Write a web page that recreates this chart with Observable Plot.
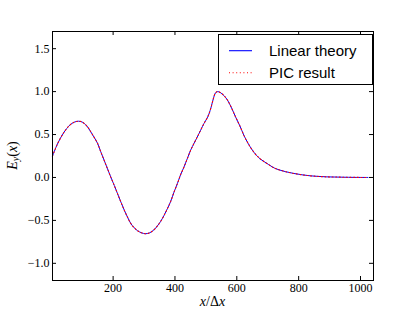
<!DOCTYPE html>
<html>
<head>
<meta charset="utf-8">
<script src="https://cdn.jsdelivr.net/npm/d3@7"></script>
<script src="https://cdn.jsdelivr.net/npm/@observablehq/plot@0.6"></script>
<style>
  html, body { margin: 0; padding: 0; background: #fff; }
  #chart svg { display: block; }
</style>
</head>
<body>
<div id="chart"></div>
<script>
// x positions (grid units x/Δx)
const xs = [4,20,40,60,75,88,100,115,128,140,150,160,171,182,193,204,214,225,236,247,
  257,268,279,292,305,318,332,343,354,365,376,386,397,408,418,429,440,451,462,472,
  483,494,503,510,517,524,531,538,546,558,570,583,596,610,623,636,650,663,676,690,
  703,716,730,757,784,811,838,865,891,918,945,980,1024];
// Linear theory E_y(x)
const theoryY = [0.25,0.39,0.52,0.61,0.645,0.655,0.645,0.60,0.53,0.46,0.395,0.30,0.20,0.10,0.0,-0.095,-0.186,-0.285,-0.38,-0.465,
  -0.535,-0.585,-0.62,-0.645,-0.655,-0.645,-0.61,-0.565,-0.51,-0.44,-0.36,-0.28,-0.17,-0.07,0.03,0.12,0.22,0.32,0.40,0.47,
  0.55,0.63,0.685,0.74,0.82,0.915,0.985,1.0,0.99,0.955,0.90,0.81,0.705,0.60,0.49,0.40,0.32,0.26,0.215,0.18,
  0.15,0.12,0.097,0.068,0.047,0.031,0.019,0.012,0.007,0.005,0.003,0.001,0.0];
// PIC result E_y(x)
const picY = [0.25,0.39,0.52,0.61,0.645,0.655,0.645,0.60,0.53,0.46,0.395,0.30,0.20,0.10,0.0,-0.095,-0.186,-0.285,-0.38,-0.465,
  -0.535,-0.585,-0.62,-0.645,-0.655,-0.645,-0.61,-0.565,-0.51,-0.44,-0.36,-0.28,-0.17,-0.07,0.03,0.12,0.22,0.32,0.40,0.47,
  0.55,0.63,0.685,0.74,0.82,0.915,0.985,1.0,0.99,0.955,0.90,0.81,0.705,0.60,0.49,0.40,0.32,0.26,0.215,0.18,
  0.15,0.12,0.097,0.068,0.047,0.031,0.019,0.012,0.007,0.005,0.003,0.001,0.0];

const xTicks = [200, 400, 600, 800, 1000];
const yTicks = [-1.0, -0.5, 0.0, 0.5, 1.0, 1.5];
const seriesNames = ["Linear theory", "PIC result"];

const theory = xs.map((x, i) => ({x, y: theoryY[i]}));
const pic = xs.map((x, i) => ({x, y: picY[i]}));

const W = 415, H = 312;
const mL = 52, mR = 42, mT = 31, mB = 32;
const innerW = W - mL - mR, innerH = H - mT - mB;
const tickLen = 4;
const fmt = d => (d < 0 ? "\u2212" : "") + Math.abs(d).toFixed(1);

const chart = Plot.plot({
  width: W, height: H,
  marginLeft: mL, marginRight: mR, marginTop: mT, marginBottom: mB,
  style: {background: "#fff", fontFamily: "'Liberation Serif', serif", fontSize: "12px", color: "#000"},
  x: {domain: [4, 1042]},
  y: {domain: [-1.2, 1.7]},
  marks: [
    Plot.line(theory, {x: "x", y: "y", stroke: "#0000ff", strokeWidth: 1, curve: "catmull-rom"}),
    Plot.line(pic, {x: "x", y: "y", stroke: "#ff0000", strokeWidth: 1.1, strokeDasharray: "1,2.6", curve: "catmull-rom"}),
    // inward ticks on all four sides
    Plot.tickX(xTicks, {x: d => d, insetTop: innerH - tickLen, stroke: "#000"}),
    Plot.tickX(xTicks, {x: d => d, insetBottom: innerH - tickLen, stroke: "#000"}),
    Plot.tickY(yTicks, {y: d => d, insetRight: innerW - tickLen, stroke: "#000"}),
    Plot.tickY(yTicks, {y: d => d, insetLeft: innerW - tickLen, stroke: "#000"}),
    Plot.axisX({ticks: xTicks, tickSize: 0, tickPadding: 3, tickFormat: d => String(d), label: null, fontSize: 12}),
    Plot.axisY({ticks: yTicks, tickSize: 0, tickPadding: 3, tickFormat: fmt, label: null, fontSize: 12}),
    Plot.frame({stroke: "#000", strokeWidth: 1})
  ]
});
document.getElementById("chart").appendChild(chart);

const svg = d3.select(chart);
// y axis label E_y(x)
const yl = svg.append("text")
  .attr("transform", `translate(14,${mT + innerH / 2}) rotate(-90)`)
  .attr("text-anchor", "middle")
  .attr("dominant-baseline", "middle")
  .style("font-family", "'Liberation Serif', serif")
  .style("font-size", "14px")
  .attr("fill", "#000");
yl.append("tspan").attr("font-style", "italic").text("E");
yl.append("tspan").attr("font-style", "italic").attr("font-size", "10px").attr("dy", "3").text("y");
yl.append("tspan").attr("dy", "-3").text("(");
yl.append("tspan").attr("font-style", "italic").text("x");
yl.append("tspan").text(")");

// x axis label x/Δx
const xl = svg.append("text")
  .attr("x", mL + innerW / 2)
  .attr("y", 306)
  .attr("text-anchor", "middle")
  .style("font-family", "'Liberation Serif', serif")
  .style("font-size", "14px")
  .attr("fill", "#000");
xl.append("tspan").attr("font-style", "italic").text("x");
xl.append("tspan").text("/\u0394");
xl.append("tspan").attr("font-style", "italic").text("x");

// legend
const lg = svg.append("g").attr("text-anchor", "start");
lg.append("rect").attr("x", 218.5).attr("y", 34.5).attr("width", 154).attr("height", 50)
  .attr("fill", "#fff").attr("stroke", "#000").attr("stroke-width", 1);
const entries = [
  {name: seriesNames[0], color: "#0000ff", dash: null, y: 50.7},
  {name: seriesNames[1], color: "#ff0000", dash: "1,2.6", y: 72.7}
];
entries.forEach(e => {
  const l = lg.append("line").attr("x1", 229).attr("x2", 252).attr("y1", e.y).attr("y2", e.y)
    .attr("stroke", e.color).attr("stroke-width", 1.1);
  if (e.dash) l.attr("stroke-dasharray", e.dash);
  lg.append("text").attr("x", 269).attr("y", e.y).attr("dominant-baseline", "central")
    .attr("text-anchor", "start")
    .style("font-family", "'Liberation Sans', Arial, sans-serif").style("font-size", "15px")
    .attr("fill", "#000").text(e.name);
});
</script>
</body>
</html>
